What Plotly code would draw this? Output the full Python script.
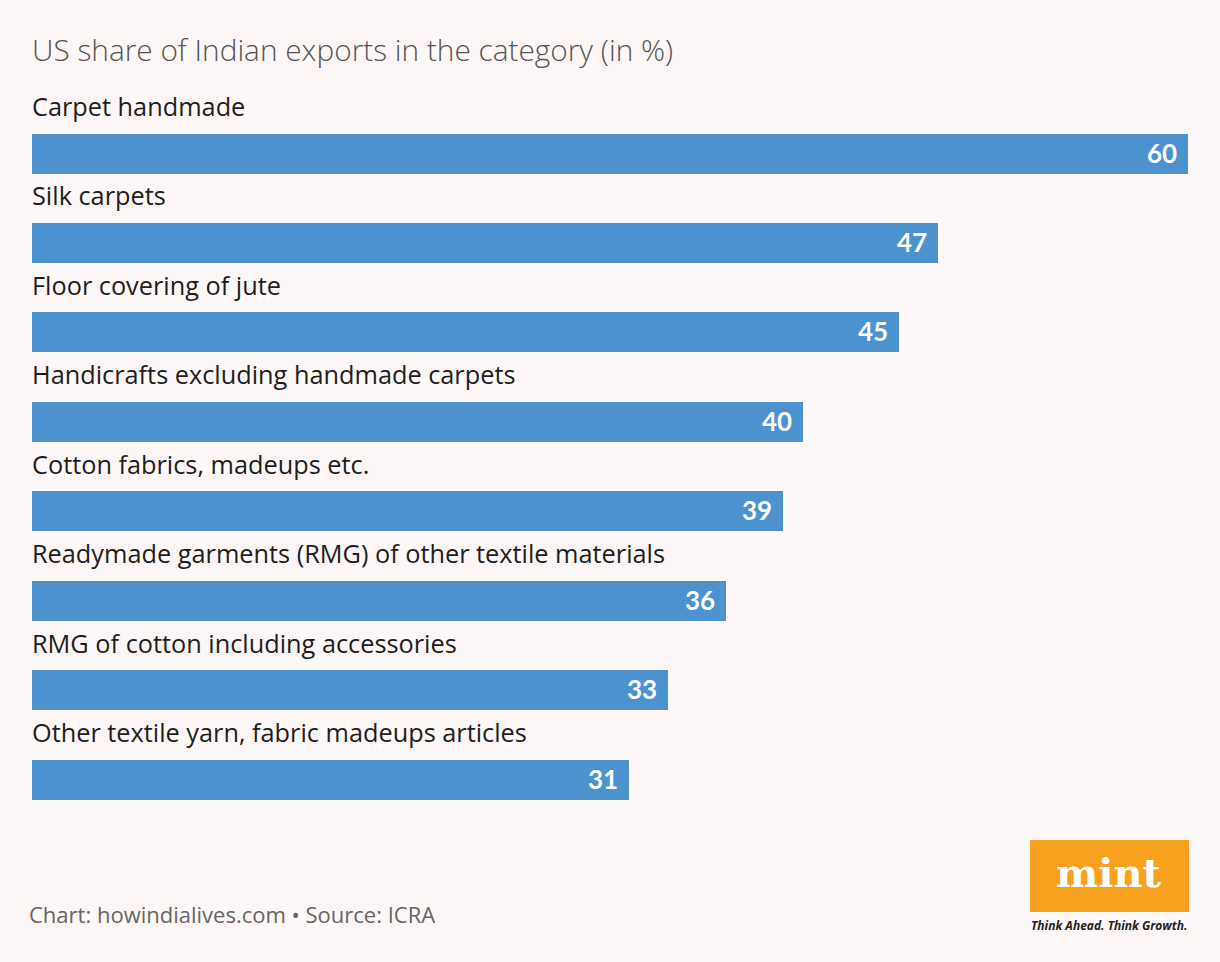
import plotly.graph_objects as go

categories = [
    "Carpet handmade",
    "Silk carpets",
    "Floor covering of jute",
    "Handicrafts excluding handmade carpets",
    "Cotton fabrics, madeups etc.",
    "Readymade garments (RMG) of other textile materials",
    "RMG of cotton including accessories",
    "Other textile yarn, fabric madeups articles",
]
values = [60, 47, 45, 40, 39, 36, 33, 31]

title_text = "US share of Indian exports in the category (in %)"
footer_text = "Chart: howindialives.com • Source: ICRA"

W, H = 1220, 962
BG = "#fdf8f7"
BAR = "#4b92ce"
FONT = "Open Sans"

# layout helpers (pixel -> paper)
ML, MR = 32, 32
PW = W - ML - MR
def px(x):
    return (x - ML) / PW
def py(y):
    return 1 - y / H

# y axis mapping: index 0 at 153.5px, spacing 89.43px
step = 89.43
c0 = 153.5
y_top = -c0 / step
y_bot = (H - c0) / step

idx = list(range(len(categories)))

fig = go.Figure()
fig.add_trace(go.Bar(
    x=values, y=idx, orientation="h",
    marker=dict(color=BAR, line=dict(width=0)),
    width=40 / step,
    hoverinfo="skip",
))

annotations = []
for i, (c, v) in enumerate(zip(categories, values)):
    annotations.append(dict(
        x=0, y=i - 47.5 / step, xref="x", yref="y", text=c,
        xanchor="left", yanchor="middle", xshift=-2, showarrow=False,
        font=dict(family=FONT, size=25.3, color="#1e1e1e"),
    ))
    annotations.append(dict(
        x=v, y=i, xref="x", yref="y", text=f"<b>{v}</b>",
        xanchor="right", yanchor="middle", xshift=-9, yshift=1, showarrow=False,
        font=dict(family="Lato", size=26, color="white"),
    ))

annotations.append(dict(
    x=px(30), y=py(50), xref="paper", yref="paper", text=title_text,
    xanchor="left", yanchor="middle", showarrow=False,
    font=dict(family=FONT, size=29.8, color="#555555", weight=300),
))
annotations.append(dict(
    x=px(27), y=py(914), xref="paper", yref="paper", text=footer_text,
    xanchor="left", yanchor="middle", showarrow=False,
    font=dict(family=FONT, size=22, color="#666666"),
))
annotations.append(dict(
    x=px(1109), y=py(872), xref="paper", yref="paper", text="<b>mint</b>",
    xanchor="center", yanchor="middle", showarrow=False,
    font=dict(family="DejaVu Serif", size=40, color="white"),
))
annotations.append(dict(
    x=px(1109), y=py(925), xref="paper", yref="paper",
    text="<b><i>Think Ahead. Think Growth.</i></b>",
    xanchor="center", yanchor="middle", showarrow=False,
    font=dict(family=FONT, size=12, color="#222222"),
))

fig.update_layout(
    width=W, height=H,
    margin=dict(l=ML, r=MR, t=0, b=0),
    paper_bgcolor=BG, plot_bgcolor=BG,
    showlegend=False,
    xaxis=dict(range=[0, 60], visible=False, fixedrange=True),
    yaxis=dict(range=[y_bot, y_top], visible=False, fixedrange=True),
    annotations=annotations,
    shapes=[dict(
        type="rect", xref="paper", yref="paper",
        x0=px(1030), x1=px(1189), y0=py(912), y1=py(840),
        fillcolor="#f7a11e", line=dict(width=0), layer="above",
    )],
    bargap=0,
)

fig.write_html("out.html", config={"displayModeBar": False})
